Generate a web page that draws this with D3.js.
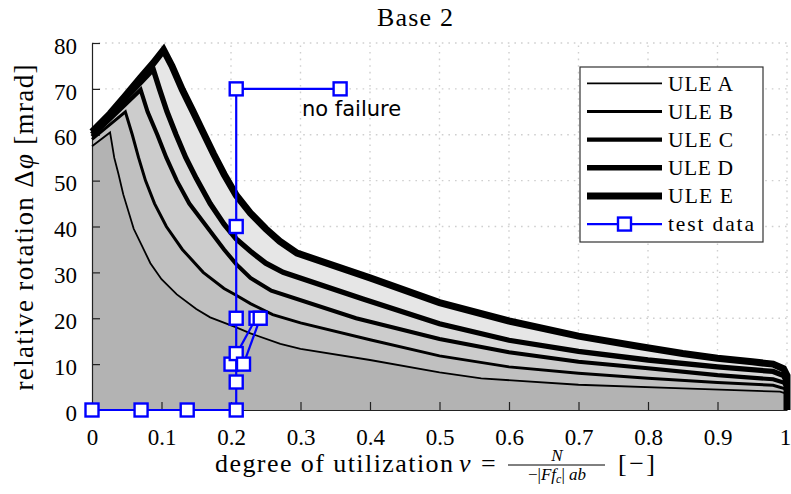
<!DOCTYPE html>
<html>
<head>
<meta charset="utf-8">
<script src="https://cdn.jsdelivr.net/npm/d3@7"></script>
<style>
  body { margin: 0; background: #fff; }
  svg { display: block; }
  .serif { font-family: "Liberation Serif", "DejaVu Serif", "Times New Roman", serif; }
</style>
</head>
<body>
<svg id="chart" width="791" height="494"></svg>
<script>
// Limit curves of relative rotation (mrad) over degree of utilization, base 2
const seriesNames = ["ULE A", "ULE B", "ULE C", "ULE D", "ULE E"];

const uleA = [[0,57.5],[0.026,60.5],[0.032,55],[0.038,51.5],[0.045,47],[0.06,39.5],[0.084,32],[0.1,28.5],[0.122,25.2],[0.15,22],[0.17,20.2],[0.2075,18],[0.228,16.7],[0.271,14.4],[0.3,13.3],[0.4,10.9],[0.5,8.2],[0.56,6.9],[0.7,5.5],[0.85,4.7],[0.99,4.0],[1,3.5],[1,0]];
const uleB = [[0,59.0],[0.048,65],[0.058,60],[0.067,55],[0.077,50],[0.09,45],[0.107,40],[0.13,35],[0.16,30],[0.19,26.5],[0.2075,25],[0.228,23.2],[0.26,20.8],[0.3,19],[0.4,15.3],[0.5,11.8],[0.6,9.4],[0.7,8.0],[0.8,6.9],[0.9,6.0],[0.98,5.4],[1,4.5],[1,0]];
const uleC = [[0,59.6],[0.07,69.8],[0.08,65],[0.094,60],[0.107,55],[0.122,50],[0.14,45],[0.165,40],[0.19,35],[0.2075,31.8],[0.228,28.8],[0.258,26],[0.38,20],[0.5,15.5],[0.6,12.6],[0.7,10.5],[0.8,9.1],[0.9,7.6],[0.98,6.7],[0.995,6],[1,5],[1,0]];
const uleD = [[0,60.1],[0.088,74.3],[0.097,70],[0.108,65],[0.121,60],[0.135,55],[0.15,50.5],[0.17,45],[0.19,40.5],[0.2075,37.3],[0.228,34.6],[0.25,32],[0.275,30],[0.39,24.2],[0.5,18.8],[0.6,15.2],[0.7,12.8],[0.8,10.9],[0.9,9.4],[0.98,8.4],[0.995,7.5],[1,6],[1,0]];
const uleE = [[0,60.6],[0.026,64.6],[0.048,68.5],[0.07,72.5],[0.088,75.6],[0.103,78.5],[0.115,75],[0.13,69.8],[0.145,65.2],[0.16,60.5],[0.175,55.8],[0.19,51.4],[0.2075,46.8],[0.228,42.9],[0.25,39.5],[0.27,36.8],[0.295,34.2],[0.4,28.8],[0.5,23.4],[0.6,19.4],[0.7,16.1],[0.79,13.8],[0.85,12.3],[0.9,11.3],[0.95,10.5],[0.98,10],[0.995,9],[1,7.5],[1,0]];

// Test runs (degree of utilization, rotation)
const testRun2 = [[0.2,10],[0.236,20]];
const testRun1 = [[0,0],[0.0706,0],[0.137,0],[0.2075,0],[0.2075,6.1],[0.2075,12.3],[0.2075,20],[0.2075,40],[0.2075,70],[0.357,70]];
const testRun3 = [[0.218,10],[0.242,20]];

const xTicks = [0,0.1,0.2,0.3,0.4,0.5,0.6,0.7,0.8,0.9,1];
const xTickLabels = ["0","0.1","0.2","0.3","0.4","0.5","0.6","0.7","0.8","0.9","1"];
const yTicks = [0,10,20,30,40,50,60,70,80];
const yTickLabels = ["0","10","20","30","40","50","60","70","80"];

const curves = [uleA, uleB, uleC, uleD, uleE];
const fills = ["#b3b3b3", "#c0c0c0", "#cccccc", "#d9d9d9", "#e6e6e6"];
const widths = [1.8, 3, 4.1, 5.3, 7];
const tests = [testRun2, testRun1, testRun3];

const svg = d3.select("#chart");
const x = d3.scaleLinear().domain([0, 1]).range([92, 787]);
const y = d3.scaleLinear().domain([0, 80]).range([410, 43]);

// dotted grid
const grid = svg.append("g").attr("stroke", "#cfcfcf").attr("stroke-width", 1.4)
  .attr("stroke-dasharray", "1.6,5");
grid.selectAll("line.v").data(xTicks.slice(1)).join("line")
  .attr("x1", d => x(d)).attr("x2", d => x(d)).attr("y1", y(0)).attr("y2", y(80));
grid.selectAll("line.h").data(yTicks.slice(1)).join("line")
  .attr("y1", d => y(d)).attr("y2", d => y(d)).attr("x1", x(0)).attr("x2", x(1));

// filled bands: lightest (E) first, darkest (A) on top
const area = d3.area().x(d => x(d[0])).y0(y(0)).y1(d => y(d[1]));
const line = d3.line().x(d => x(d[0])).y(d => y(d[1]));
const bands = svg.append("g");
for (let i = curves.length - 1; i >= 0; i--) {
  bands.append("path").attr("d", area(curves[i])).attr("fill", fills[i]);
}

// axes with inward ticks
const xAxis = d3.axisBottom(x).tickValues(xTicks).tickFormat((d, i) => xTickLabels[i])
  .tickSize(-8).tickSizeOuter(0).tickPadding(21);
const yAxis = d3.axisLeft(y).tickValues(yTicks).tickFormat((d, i) => yTickLabels[i])
  .tickSize(-8).tickSizeOuter(0).tickPadding(15);
const gx = svg.append("g").attr("transform", `translate(0,${y(0)})`).call(xAxis);
const gy = svg.append("g").attr("transform", `translate(${x(0)},0)`).call(yAxis);
[gx, gy].forEach(g => {
  g.attr("font-family", null).attr("font-size", null).classed("serif", true);
  g.selectAll("path.domain").attr("stroke", "#222").attr("stroke-width", 1.2);
  g.selectAll(".tick line").attr("stroke", "#222").attr("stroke-width", 1.2);
  g.selectAll(".tick text").attr("font-size", 23).attr("fill", "#000");
});
gx.selectAll(".tick text").attr("dy", "0.6em");
gx.selectAll(".tick text").filter(d => d === 1).attr("dx", -2);
gy.selectAll(".tick text").attr("dy", "0.44em");

// limit curves
const lines = svg.append("g").attr("fill", "none").attr("stroke", "#000")
  .attr("stroke-linejoin", "miter").attr("stroke-miterlimit", 4);
curves.forEach((c, i) => {
  lines.append("path").attr("d", line(c)).attr("stroke-width", widths[i]);
});

// test data
const blue = "#0000ff";
const sq = 13;
const testG = svg.append("g");
tests.forEach(run => {
  const g = testG.append("g");
  g.append("path").attr("d", line(run)).attr("fill", "none").attr("stroke", blue).attr("stroke-width", 2.2);
  g.selectAll("rect").data(run).join("rect")
    .attr("x", d => x(d[0]) - sq / 2).attr("y", d => y(d[1]) - sq / 2)
    .attr("width", sq).attr("height", sq)
    .attr("fill", "#fff").attr("stroke", blue).attr("stroke-width", 2.4);
});

svg.append("text").attr("x", 302).attr("y", 116)
  .style("font-family", "'DejaVu Sans', sans-serif").attr("font-size", 21)
  .text("no failure");

// title
svg.append("text").attr("class", "serif").attr("x", 415).attr("y", 26).attr("text-anchor", "middle")
  .attr("font-size", 26).attr("textLength", 76).attr("lengthAdjust", "spacing")
  .text("Base 2");

// y label
const yl = svg.append("text").attr("class", "serif").attr("transform", "translate(33,227.5) rotate(-90)")
  .attr("text-anchor", "middle").attr("font-size", 27)
  .attr("textLength", 326).attr("lengthAdjust", "spacing");
yl.append("tspan").text("relative rotation Δ");
yl.append("tspan").attr("font-style", "italic").text("φ");
yl.append("tspan").text(" [mrad]");

// x label with fraction
const xl = svg.append("g").attr("class", "serif").attr("fill", "#000");
xl.append("text").attr("x", 215).attr("y", 472).attr("font-size", 26)
  .attr("textLength", 238).attr("lengthAdjust", "spacing").text("degree of utilization");
xl.append("text").attr("x", 459).attr("y", 472).attr("font-size", 26)
  .attr("font-style", "italic").text("ν");
xl.append("text").attr("x", 481).attr("y", 472).attr("font-size", 26).text("=");
xl.append("text").attr("x", 557).attr("y", 461).attr("font-size", 17)
  .attr("text-anchor", "middle").attr("font-style", "italic").text("N");
xl.append("line").attr("x1", 508).attr("x2", 605).attr("y1", 465).attr("y2", 465)
  .attr("stroke", "#000").attr("stroke-width", 1);
const den = xl.append("text").attr("x", 557).attr("y", 480).attr("font-size", 17)
  .attr("text-anchor", "middle");
den.append("tspan").text("−|");
den.append("tspan").attr("font-style", "italic").text("Ff");
den.append("tspan").attr("font-style", "italic").attr("font-size", 12).attr("dy", 3).text("c");
den.append("tspan").attr("dy", -3).text("| ");
den.append("tspan").attr("font-style", "italic").text("ab");
xl.append("text").attr("x", 618).attr("y", 472).attr("font-size", 26)
  .attr("textLength", 37).attr("lengthAdjust", "spacing").text("[−]");

// legend
const lg = svg.append("g");
lg.append("rect").attr("x", 580).attr("y", 67).attr("width", 183).attr("height", 175)
  .attr("fill", "#fff").attr("stroke", "#333").attr("stroke-width", 1.2);
const rowY = i => 83.3 + i * 28.15;
seriesNames.forEach((name, i) => {
  lg.append("line").attr("x1", 587).attr("x2", 662).attr("y1", rowY(i)).attr("y2", rowY(i))
    .attr("stroke", "#000").attr("stroke-width", widths[i]);
  lg.append("text").attr("class", "serif").attr("x", 668).attr("y", rowY(i) + 7.3)
    .attr("font-size", 21.5).attr("textLength", 65).attr("lengthAdjust", "spacing").text(name);
});
const ty = rowY(5);
lg.append("line").attr("x1", 587).attr("x2", 662).attr("y1", ty).attr("y2", ty)
  .attr("stroke", blue).attr("stroke-width", 2.2);
lg.append("rect").attr("x", 624.5 - sq / 2).attr("y", ty - sq / 2).attr("width", sq).attr("height", sq)
  .attr("fill", "#fff").attr("stroke", blue).attr("stroke-width", 2.4);
lg.append("text").attr("class", "serif").attr("x", 668).attr("y", ty + 7.3)
  .attr("font-size", 21.5).attr("textLength", 86).attr("lengthAdjust", "spacing").text("test data");
</script>
</body>
</html>
